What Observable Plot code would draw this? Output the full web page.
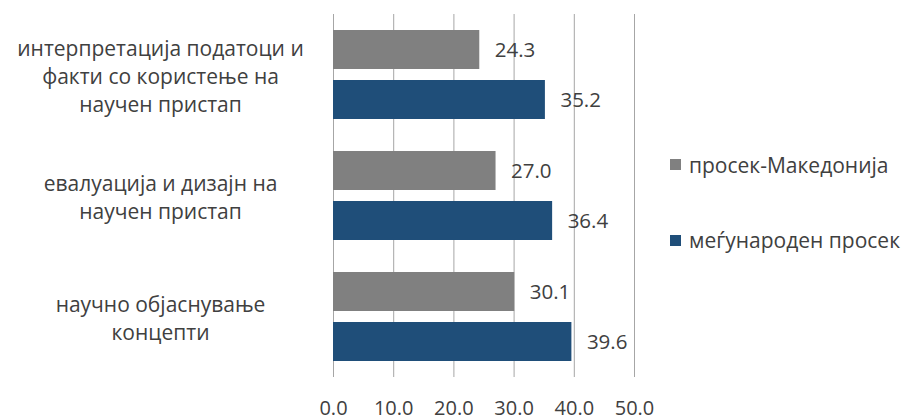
<!DOCTYPE html>
<html>
<head>
<meta charset="utf-8">
<script src="https://cdn.jsdelivr.net/npm/d3@7"></script>
<script src="https://cdn.jsdelivr.net/npm/@observablehq/plot@0.6"></script>
<style>
  html, body { margin: 0; padding: 0; background: #fff; }
  #wrap { position: relative; width: 906px; height: 419px; overflow: hidden; font-family: "Open Sans", "Noto Sans", sans-serif; }
  #wrap svg { display: block; }
  .legend { position: absolute; left: 670px; font-size: 21px; color: #404040; display: flex; align-items: center; white-space: nowrap; }
  .legend .sw { width: 11px; height: 11px; margin-right: 8px; }
</style>
</head>
<body>
<div id="wrap"></div>
<script>
const categories = [
  "интерпретација податоци и\nфакти со користење на\nнаучен пристап",
  "евалуација и дизајн на\nнаучен пристап",
  "научно објаснување\nконцепти"
];
const seriesNames = ["просек-Македонија", "меѓународен просек"];
const mkValues = [24.3, 27.0, 30.1];
const intlValues = [35.2, 36.4, 39.6];
const xTicks = [0, 10, 20, 30, 40, 50];
const colors = ["#808080", "#1f4e79"];

const data = [];
categories.forEach((c, i) => {
  data.push({cat: c, series: seriesNames[0], value: mkValues[i]});
  data.push({cat: c, series: seriesNames[1], value: intlValues[i]});
});

const chart = Plot.plot({
  width: 906,
  height: 419,
  marginLeft: 333,
  marginRight: 272,
  marginTop: 13,
  marginBottom: 41,
  style: {fontFamily: "'Open Sans', 'Noto Sans', sans-serif", fontSize: "20px", color: "#404040", background: "#fff"},
  x: {domain: [0, 50], ticks: xTicks, tickFormat: d3.format(".1f"), tickSize: 0, tickPadding: 23, label: null},
  y: {domain: seriesNames, axis: null, paddingInner: 0.22, paddingOuter: 0.32},
  fy: {domain: categories, axis: null, padding: 0},
  color: {domain: seriesNames, range: colors},
  marks: [
    Plot.ruleX(xTicks, {stroke: "#a6a6a6", strokeWidth: 1, strokeOpacity: 1}),
    Plot.barX(data, {x: "value", y: "series", fy: "cat", fill: "series"}),
    Plot.text(data, {x: "value", y: "series", fy: "cat", text: d => d.value.toFixed(1), dx: 15, textAnchor: "start", fill: "#404040", fontSize: 20.5}),
    Plot.text(categories, {fy: d => d, text: d => d, frameAnchor: "left", dx: -173, textAnchor: "middle", lineHeight: 1.33, fill: "#404040", fontSize: 21})
  ]
});
const wrap = document.getElementById("wrap");
wrap.appendChild(chart);

const legendY = [164.5, 240];
seriesNames.forEach((s, i) => {
  const el = document.createElement("div");
  el.className = "legend";
  el.style.top = (legendY[i] - 15) + "px";
  el.style.height = "30px";
  el.innerHTML = `<div class="sw" style="background:${colors[i]}"></div><span>${s}</span>`;
  wrap.appendChild(el);
});
</script>
</body>
</html>
